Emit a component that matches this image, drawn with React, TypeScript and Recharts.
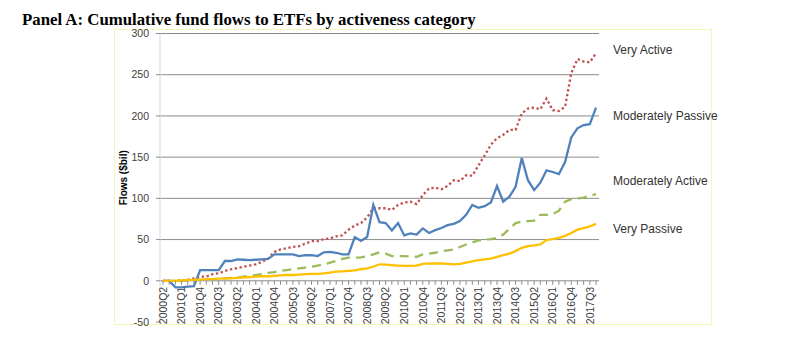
import React from 'react';
import { LineChart, Line, XAxis, YAxis, ReferenceLine } from 'recharts';

const quarters = [
  '2000Q2', '2000Q3', '2000Q4',
  '2001Q1', '2001Q2', '2001Q3', '2001Q4',
  '2002Q1', '2002Q2', '2002Q3', '2002Q4',
  '2003Q1', '2003Q2', '2003Q3', '2003Q4',
  '2004Q1', '2004Q2', '2004Q3', '2004Q4',
  '2005Q1', '2005Q2', '2005Q3', '2005Q4',
  '2006Q1', '2006Q2', '2006Q3', '2006Q4',
  '2007Q1', '2007Q2', '2007Q3', '2007Q4',
  '2008Q1', '2008Q2', '2008Q3', '2008Q4',
  '2009Q1', '2009Q2', '2009Q3', '2009Q4',
  '2010Q1', '2010Q2', '2010Q3', '2010Q4',
  '2011Q1', '2011Q2', '2011Q3', '2011Q4',
  '2012Q1', '2012Q2', '2012Q3', '2012Q4',
  '2013Q1', '2013Q2', '2013Q3', '2013Q4',
  '2014Q1', '2014Q2', '2014Q3', '2014Q4',
  '2015Q1', '2015Q2', '2015Q3', '2015Q4',
  '2016Q1', '2016Q2', '2016Q3', '2016Q4',
  '2017Q1', '2017Q2', '2017Q3', '2017Q4',
];

const veryActive = [
  0, 0, 0, 0.5, 1, 3, 5, 5, 8, 9,
  12, 14, 15.5, 17, 18.5, 20, 23, 27, 35, 38,
  39.5, 41, 42, 45, 48, 48, 50.5, 51.5, 54, 55,
  62, 67, 70, 77, 88, 88, 88, 86, 92, 95,
  96, 93, 104, 112, 113, 111, 115, 122, 121, 128,
  127.5, 140, 152, 165, 173, 177, 183, 183, 203, 209,
  210, 208, 221, 207, 206, 211, 252, 269, 266, 265,
  276,
];

const moderatelyPassive = [
  0, 0, -8, -8, -7, -6.5, 13, 13, 13, 13,
  24, 24, 26, 25.5, 25, 25.5, 26, 26.5, 32, 32,
  32, 32, 30, 31, 31, 30, 34.5, 35, 34, 32,
  32, 53, 48.5, 53, 92, 71, 70, 61, 70, 55,
  57.5, 56, 63.5, 58, 61.5, 64, 67.5, 69, 72.5, 80,
  92, 88.5, 90.5, 95, 115, 96, 102, 114, 149, 122,
  110, 119, 134, 132, 129.5, 144, 174, 185, 189, 190,
  210,
];

const moderatelyActive = [
  0, 0, 0, 0, 0.5, 1, 1, 1.5, 2, 2.5,
  3, 3.5, 4, 5, 6, 7, 8, 9.5, 10.5, 12,
  13, 14, 15, 16, 17, 18.5, 20, 22, 24, 26.5,
  28, 28, 28.5, 30, 32, 34.5, 33, 30, 30, 30,
  29.5, 29, 32, 33, 34, 36, 37, 38, 41, 44,
  46.5, 49, 50, 50.5, 52, 56, 63, 70, 72, 72.5,
  73, 80, 80, 81, 85, 96, 99, 100, 101, 103,
  105,
];

const veryPassive = [
  0, 0, 0, 0.5, 1, 1, 1.5, 2, 2, 2.5,
  3, 3, 3.5, 4, 4.5, 5, 5.5, 5.5, 6, 6.5,
  7, 7, 7.5, 8, 8.5, 8.5, 9, 10, 11, 11.5,
  12, 12.5, 14, 15, 17, 20, 19.5, 19, 18.5, 18,
  18, 18.5, 20.5, 21, 21, 21, 20.5, 20, 20.5, 22,
  23.5, 25, 26, 27, 29, 31, 33, 36, 40, 42,
  43, 44, 49.5, 50.5, 52, 54.5, 58, 62, 64, 66,
  69,
];

const yTicks = [-50, 0, 50, 100, 150, 200, 250, 300];
const titleText = 'Panel A: Cumulative fund flows to ETFs by activeness category';
const yAxisTitle = 'Flows ($bil)';
const seriesNames = ['Very Active', 'Moderately Passive', 'Moderately Active', 'Very Passive'];

const data = quarters.map((q, i) => ({
  q,
  veryActive: veryActive[i],
  moderatelyPassive: moderatelyPassive[i],
  moderatelyActive: moderatelyActive[i],
  veryPassive: veryPassive[i],
}));

const series = [
  { key: 'veryActive', name: seriesNames[0], color: '#c0504d', dash: '2.3 2.6', labelY: 54 },
  { key: 'moderatelyPassive', name: seriesNames[1], color: '#4f81bd', dash: undefined, labelY: 119.5 },
  { key: 'moderatelyActive', name: seriesNames[2], color: '#9bbb59', dash: '9 6', labelY: 184.5 },
  { key: 'veryPassive', name: seriesNames[3], color: '#ffc000', dash: undefined, labelY: 233 },
];

const W = 797;
const H = 359;
const PLOT = { left: 160, right: 599, top: 33.5, bottom: 322 };
const YAXIS_W = 40;
const XAXIS_H = 1;
const Y_MIN = yTicks[0];
const Y_MAX = yTicks[yTicks.length - 1];
const FONT = '"Liberation Sans", Arial, sans-serif';
const GRID = '#8c8c8c';

const zeroY = PLOT.bottom - ((0 - Y_MIN) / (Y_MAX - Y_MIN)) * (PLOT.bottom - PLOT.top);

const CategoryTick = (props: any) => {
  const { x, index, payload } = props;
  return (
    <g>
      <line x1={x} x2={x} y1={zeroY} y2={zeroY + 4} stroke={GRID} strokeWidth={1} />
      {index % 3 === 0 ? (
        <text
          x={x}
          y={zeroY + 6}
          transform={`rotate(-90, ${x}, ${zeroY + 6})`}
          textAnchor="end"
          dy="0.36em"
          fontSize={10.5}
          fontFamily={FONT}
          fill="#404040"
        >
          {payload.value}
        </text>
      ) : null}
    </g>
  );
};

const YTitle = (props: any) => {
  const cx = 123;
  const cy = (PLOT.top + PLOT.bottom) / 2;
  return (
    <text
      x={cx}
      y={cy}
      transform={`rotate(-90, ${cx}, ${cy})`}
      textAnchor="middle"
      dy="0.36em"
      fontSize={10}
      fontWeight="bold"
      fontFamily={FONT}
      fill="#000"
    >
      {yAxisTitle}
    </text>
  );
};

export default function App() {
  return (
    <div style={{ position: 'absolute', left: 0, top: 0, width: W, height: H, background: '#fff' }}>
      <svg width={W} height={H} style={{ position: 'absolute', left: 0, top: 0 }}>
        <rect x={114.5} y={29.5} width={597} height={295} fill="none" stroke="#f6f6b4" strokeWidth={1} />
      </svg>
      <div style={{ position: 'absolute', left: 0, top: 0 }}>
        <LineChart
          width={W}
          height={H}
          data={data}
          margin={{
            top: PLOT.top,
            right: W - PLOT.right,
            bottom: H - PLOT.bottom - XAXIS_H,
            left: PLOT.left - YAXIS_W,
          }}
        >
          <XAxis
            dataKey="q"
            interval={0}
            axisLine={false}
            tickLine={false}
            height={XAXIS_H}
            padding={{ left: 3, right: 3 }}
            tick={<CategoryTick />}
          />
          <YAxis
            type="number"
            domain={[Y_MIN, Y_MAX]}
            ticks={yTicks}
            interval={0}
            width={YAXIS_W}
            tickSize={4}
            tickMargin={7}
            axisLine={{ stroke: '#d9d9d9' }}
            tickLine={{ stroke: GRID }}
            tick={{ fontSize: 10.5, fontFamily: FONT, fill: '#404040' }}
            label={<YTitle />}
          />
          {yTicks
            .filter((v) => v >= 0)
            .map((v) => (
              <ReferenceLine key={v} y={v} stroke={GRID} strokeWidth={1} ifOverflow="extendDomain" />
            ))}
          {series.map((s) => (
            <Line
              key={s.key}
              type="linear"
              dataKey={s.key}
              name={s.name}
              stroke={s.color}
              strokeWidth={2.3}
              strokeDasharray={s.dash}
              dot={false}
              activeDot={false}
              isAnimationActive={false}
            />
          ))}
        </LineChart>
      </div>
      <svg width={W} height={H} style={{ position: 'absolute', left: 0, top: 0, pointerEvents: 'none' }}>
        <text
          x={22}
          y={25}
          fontFamily='"Liberation Serif", "Times New Roman", serif'
          fontWeight="bold"
          fontSize={16.8}
          fill="#000"
        >
          {titleText}
        </text>
        {series.map((s) => (
          <text key={s.key} x={613} y={s.labelY} fontFamily={FONT} fontSize={12} fill="#333">
            {s.name}
          </text>
        ))}
      </svg>
    </div>
  );
}
